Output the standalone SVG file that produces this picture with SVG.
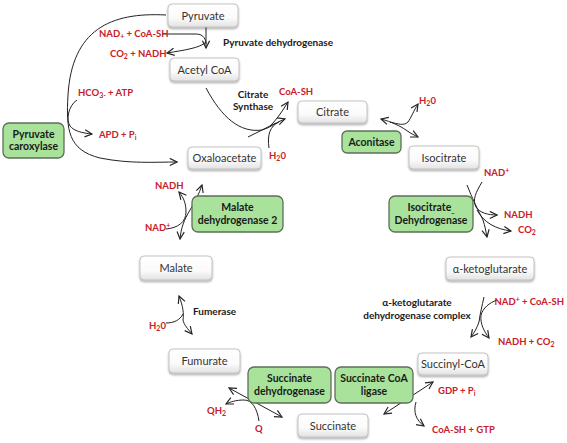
<svg xmlns="http://www.w3.org/2000/svg" width="567" height="443" viewBox="0 0 567 443">
<defs>
<linearGradient id="wg" x1="0" y1="0" x2="0" y2="1">
<stop offset="0" stop-color="#ffffff"/>
<stop offset="0.6" stop-color="#fbfbfb"/>
<stop offset="1" stop-color="#e2e2e2"/>
</linearGradient>
<filter id="sh" x="-20%" y="-20%" width="140%" height="160%">
<feDropShadow dx="0" dy="1.5" stdDeviation="1.2" flood-color="#000" flood-opacity="0.35"/>
</filter>
<marker id="ah" viewBox="0 0 10 10" refX="9" refY="5" markerWidth="9" markerHeight="9" markerUnits="userSpaceOnUse" orient="auto-start-reverse">
<path d="M1,1 L9,5 L1,9" fill="none" stroke="#222" stroke-width="1.3"/>
</marker>
</defs>
<style>
.wb{fill:url(#wg);stroke:#bdbdbd;stroke-width:0.9;filter:url(#sh)}
.gb{fill:#a9e29b;stroke:#5e6e5a;stroke-width:1.3}
.nt{font-family:Lato,"Liberation Sans",sans-serif;font-size:11px;fill:#333;text-anchor:middle}
.gt{font-family:Lato,"Liberation Sans",sans-serif;font-size:10.5px;font-weight:bold;fill:#1a1a1a;text-anchor:middle}
.bt{font-family:Lato,"Liberation Sans",sans-serif;font-size:10px;font-weight:bold;fill:#1a1a1a}
.rt{font-family:Lato,"Liberation Sans",sans-serif;font-size:9.5px;font-weight:bold;fill:#c8202a}
.c{fill:none;stroke:#222;stroke-width:1}
.a{marker-end:url(#ah)}
.s{marker-start:url(#ah)}
</style>
<rect width="567" height="443" fill="#fff"/>

<g id="connectors">
<path class="c a" d="M166,15 C110,12 72,30 68,95 C66,130 68,150 100,158 C130,164 155,162 177,162"/>
<path class="c a" d="M77,100 C68,106 66,120 70,126 C74,131 82,133 92,134"/>
<path class="c a" d="M206,27 L206,48"/>
<path class="c" d="M162,34 L196,34 C204,34 206,40 206,44"/>
<path class="c a" d="M206,42 C200,48 185,50 167,53"/>
<path class="c a" d="M206,88 C222,118 240,133 262,130 C270,128 276,122 285,119"/>
<path class="c" d="M248,137 L276,123"/>
<path class="c a" d="M270,126 C278,118 283,110 288,102"/>
<path class="c" d="M269,148 C267,135 270,126 279,122"/>
<path class="c a s" d="M381,119 C392,122 400,126 406,130 C410,133 414,135 418,137"/>
<path class="c a" d="M390,122 C398,124 404,126 408,122 C411,118 414,110 418,104"/>
<path class="c a" d="M467,185 C472,198 478,210 483,220 C485,226 486,232 487,237"/>
<path class="c a" d="M482,182 C476,192 472,200 476,207 C480,213 488,215 497,215"/>
<path class="c a" d="M477,210 C484,223 496,229 511,231"/>
<path class="c a" d="M484,297 C482,306 480,314 479,322 C477,328 474,333 471,337"/>
<path class="c a" d="M497,300 C489,303 483,308 481,315 C480,324 484,331 489,338"/>
<path class="c a s" d="M384,414 L433,382"/>
<path class="c a" d="M416,402 C413,412 416,420 424,426"/>
<path class="c a s" d="M229,388 L282,417"/>
<path class="c a" d="M259,421 C257,408 252,400 244,400 C236,400 230,402 226,404"/>
<path class="c a s" d="M179,296 C183,306 184,314 183,320 C184,325 188,329 192,334"/>
<path class="c" d="M166,323 C174,323 180,320 183,314"/>
<path class="c a s" d="M180,239 C181,228 184,220 190,210 C195,202 199,194 202,185"/>
<path class="c a" d="M166,229 C178,228 186,222 186,212 C186,204 184,198 179,192"/>
</g>

<g id="pyruvate"><rect class="wb" x="168" y="4" width="70" height="23" rx="4"/><text class="nt" x="203" y="19.5">Pyruvate</text></g>
<g id="acetylcoa"><rect class="wb" x="170" y="58" width="69" height="23" rx="4"/><text class="nt" x="204.5" y="73.5">Acetyl CoA</text></g>
<g id="oxaloacetate"><rect class="wb" x="188" y="147" width="73" height="22" rx="4"/><text class="nt" x="224.5" y="162">Oxaloacetate</text></g>
<g id="citrate"><rect class="wb" x="298" y="101" width="69" height="22" rx="4"/><text class="nt" x="332.5" y="116">Citrate</text></g>
<g id="isocitrate"><rect class="wb" x="409" y="146" width="70" height="23" rx="4"/><text class="nt" x="444" y="161.5">Isocitrate</text></g>
<g id="ketoglutarate"><rect class="wb" x="446" y="257" width="88" height="23" rx="4"/><text class="nt" x="490" y="272.5">α-ketoglutarate</text></g>
<g id="succinylcoa"><rect class="wb" x="418" y="353" width="70" height="22" rx="4"/><text class="nt" x="453" y="368">Succinyl-CoA</text></g>
<g id="succinate"><rect class="wb" x="298" y="414" width="70" height="23" rx="4"/><text class="nt" x="333" y="429.5">Succinate</text></g>
<g id="fumurate"><rect class="wb" x="169" y="349" width="71" height="24" rx="4"/><text class="nt" x="204.5" y="365">Fumurate</text></g>
<g id="malate"><rect class="wb" x="140" y="256" width="72" height="24" rx="4"/><text class="nt" x="176" y="272">Malate</text></g>

<g id="pyruvate-caroxylase"><rect class="gb" x="3" y="123" width="61" height="35" rx="6"/><text class="gt" x="33.5" y="137.5">Pyruvate</text><text class="gt" x="33.5" y="149.5">caroxylase</text></g>
<g id="aconitase"><rect class="gb" x="342" y="131" width="59" height="22" rx="5"/><text class="gt" x="371.5" y="145.5">Aconitase</text></g>
<g id="isocitrate-dehydrogenase"><rect class="gb" x="389" y="196" width="84" height="36" rx="6"/><text class="gt" x="431" y="211">Isocitrate<tspan font-size="7" dy="2">_</tspan></text><text class="gt" x="431" y="224">Dehydrogenase</text></g>
<g id="malate-dehydrogenase"><rect class="gb" x="192" y="196" width="91" height="36" rx="6"/><text class="gt" x="237.5" y="211">Malate</text><text class="gt" x="237.5" y="224">dehydrogenase 2</text></g>
<g id="succinate-dehydrogenase"><rect class="gb" x="248" y="367" width="83" height="36" rx="6"/><text class="gt" x="289.5" y="382">Succinate</text><text class="gt" x="289.5" y="395">dehydrogenase</text></g>
<g id="succinate-coa-ligase"><rect class="gb" x="335" y="367" width="78" height="36" rx="6"/><text class="gt" x="374" y="382">Succinate CoA</text><text class="gt" x="374" y="395">ligase</text></g>

<g id="labels">
<text class="bt" x="223" y="46">Pyruvate dehydrogenase</text>
<text class="bt" x="253" y="98" text-anchor="middle">Citrate</text>
<text class="bt" x="253" y="110" text-anchor="middle">Synthase</text>
<text class="bt" x="417" y="306" text-anchor="middle">α-ketoglutarate</text>
<text class="bt" x="417" y="319" text-anchor="middle">dehydrogenase complex</text>
<text class="bt" x="193" y="315">Fumerase</text>

<text class="rt" x="99" y="37">NAD<tspan font-size="7" dy="2">+</tspan><tspan dy="-2"> + CoA-SH</tspan></text>
<text class="rt" x="110" y="57">CO<tspan font-size="7" dy="2">2</tspan><tspan dy="-2"> + NADH</tspan></text>
<text class="rt" x="78" y="96">HCO<tspan font-size="7" dy="2">3-</tspan><tspan dy="-2"> + ATP</tspan></text>
<text class="rt" x="99" y="138">APD + P<tspan font-size="7" dy="2">i</tspan></text>
<text class="rt" x="279" y="95">CoA-SH</text>
<text class="rt" x="269" y="159">H<tspan font-size="7" dy="2">2</tspan><tspan dy="-2">0</tspan></text>
<text class="rt" x="419" y="104">H<tspan font-size="7" dy="2">2</tspan><tspan dy="-2">0</tspan></text>
<text class="rt" x="484" y="176">NAD<tspan font-size="7" dy="-3">+</tspan></text>
<text class="rt" x="504" y="218">NADH</text>
<text class="rt" x="518" y="233">CO<tspan font-size="7" dy="2">2</tspan></text>
<text class="rt" x="564" y="305" text-anchor="end">NAD<tspan font-size="7" dy="-3">+</tspan><tspan dy="3"> + CoA-SH</tspan></text>
<text class="rt" x="498" y="345">NADH + CO<tspan font-size="7" dy="2">2</tspan></text>
<text class="rt" x="438" y="394">GDP + P<tspan font-size="7" dy="2">i</tspan></text>
<text class="rt" x="432" y="433">CoA-SH + GTP</text>
<text class="rt" x="207" y="414">QH<tspan font-size="7" dy="2">2</tspan></text>
<text class="rt" x="255" y="432">Q</text>
<text class="rt" x="155" y="189">NADH</text>
<text class="rt" x="145" y="231">NAD<tspan font-size="7" dy="-3">+</tspan></text>
<text class="rt" x="149" y="329">H<tspan font-size="7" dy="2">2</tspan><tspan dy="-2">0</tspan></text>
</g>
</svg>
